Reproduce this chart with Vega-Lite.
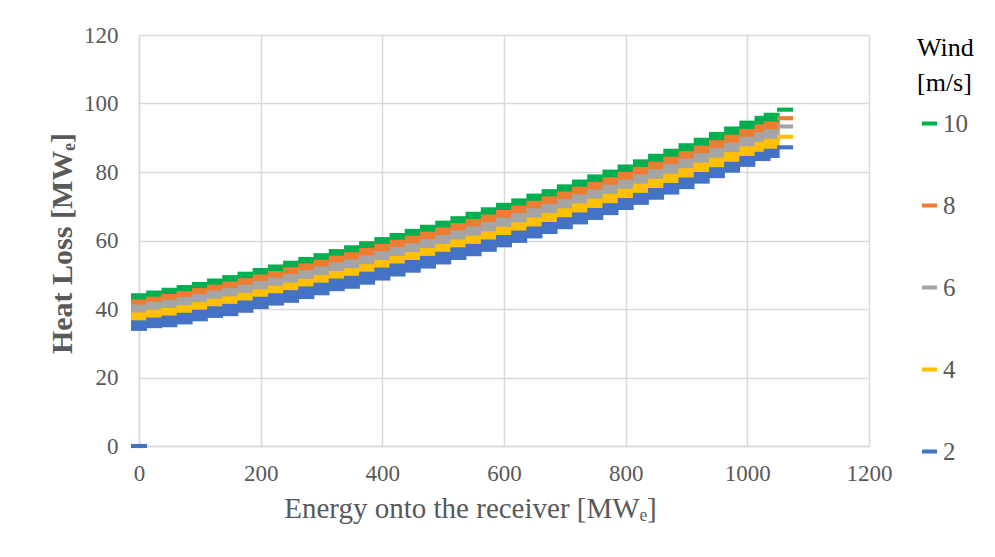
{
  "$schema": "https://vega.github.io/schema/vega-lite/v6.json",
  "width": 730,
  "height": 411,
  "autosize": {"type": "none"},
  "padding": {"left": 139, "top": 35, "right": 126, "bottom": 111},
  "background": "white",
  "config": {"font": "Liberation Serif", "view": {"stroke": null}},
  "data": {"values": [
    {"e":0,"w":"10","lo":41.2,"hi":44.6},{"e":25,"w":"10","lo":42.0,"hi":45.4},{"e":50,"w":"10","lo":42.8,"hi":46.2},{"e":75,"w":"10","lo":43.6,"hi":47.0},{"e":100,"w":"10","lo":44.5,"hi":47.9},{"e":125,"w":"10","lo":45.5,"hi":48.9},{"e":150,"w":"10","lo":46.5,"hi":49.9},{"e":175,"w":"10","lo":47.5,"hi":50.9},{"e":200,"w":"10","lo":48.6,"hi":52.0},{"e":225,"w":"10","lo":49.6,"hi":53.0},{"e":250,"w":"10","lo":50.7,"hi":54.1},{"e":275,"w":"10","lo":51.8,"hi":55.2},{"e":300,"w":"10","lo":52.9,"hi":56.3},{"e":325,"w":"10","lo":54.1,"hi":57.5},{"e":350,"w":"10","lo":55.2,"hi":58.6},{"e":375,"w":"10","lo":56.4,"hi":59.8},{"e":400,"w":"10","lo":57.6,"hi":61.0},{"e":425,"w":"10","lo":58.8,"hi":62.2},{"e":450,"w":"10","lo":60.0,"hi":63.4},{"e":475,"w":"10","lo":61.2,"hi":64.6},{"e":500,"w":"10","lo":62.4,"hi":65.8},{"e":525,"w":"10","lo":63.7,"hi":67.1},{"e":550,"w":"10","lo":65.0,"hi":68.4},{"e":575,"w":"10","lo":66.3,"hi":69.7},{"e":600,"w":"10","lo":67.6,"hi":71.0},{"e":625,"w":"10","lo":68.9,"hi":72.3},{"e":650,"w":"10","lo":70.3,"hi":73.7},{"e":675,"w":"10","lo":71.6,"hi":75.0},{"e":700,"w":"10","lo":73.0,"hi":76.4},{"e":725,"w":"10","lo":74.4,"hi":77.8},{"e":750,"w":"10","lo":75.9,"hi":79.3},{"e":775,"w":"10","lo":77.3,"hi":80.7},{"e":800,"w":"10","lo":78.8,"hi":82.2},{"e":825,"w":"10","lo":80.3,"hi":83.7},{"e":850,"w":"10","lo":81.9,"hi":85.3},{"e":875,"w":"10","lo":83.4,"hi":86.8},{"e":900,"w":"10","lo":85.0,"hi":88.4},{"e":925,"w":"10","lo":86.6,"hi":90.0},{"e":950,"w":"10","lo":88.3,"hi":91.7},{"e":975,"w":"10","lo":89.9,"hi":93.3},{"e":1000,"w":"10","lo":91.6,"hi":95.0},{"e":1025,"w":"10","lo":93.0,"hi":96.4},{"e":1040,"w":"10","lo":93.9,"hi":97.3},{"e":1062,"w":"10","lo":97.6,"hi":98.8},
    {"e":0,"w":"8","lo":39.4,"hi":42.8},{"e":25,"w":"8","lo":40.2,"hi":43.6},{"e":50,"w":"8","lo":41.0,"hi":44.4},{"e":75,"w":"8","lo":41.8,"hi":45.2},{"e":100,"w":"8","lo":42.7,"hi":46.1},{"e":125,"w":"8","lo":43.7,"hi":47.1},{"e":150,"w":"8","lo":44.6,"hi":48.0},{"e":175,"w":"8","lo":45.6,"hi":49.0},{"e":200,"w":"8","lo":46.7,"hi":50.1},{"e":225,"w":"8","lo":47.7,"hi":51.1},{"e":250,"w":"8","lo":48.8,"hi":52.2},{"e":275,"w":"8","lo":49.9,"hi":53.3},{"e":300,"w":"8","lo":51.0,"hi":54.4},{"e":325,"w":"8","lo":52.2,"hi":55.6},{"e":350,"w":"8","lo":53.2,"hi":56.6},{"e":375,"w":"8","lo":54.4,"hi":57.8},{"e":400,"w":"8","lo":55.6,"hi":59.0},{"e":425,"w":"8","lo":56.8,"hi":60.2},{"e":450,"w":"8","lo":58.0,"hi":61.4},{"e":475,"w":"8","lo":59.2,"hi":62.6},{"e":500,"w":"8","lo":60.4,"hi":63.8},{"e":525,"w":"8","lo":61.7,"hi":65.1},{"e":550,"w":"8","lo":62.9,"hi":66.3},{"e":575,"w":"8","lo":64.2,"hi":67.6},{"e":600,"w":"8","lo":65.5,"hi":68.9},{"e":625,"w":"8","lo":66.8,"hi":70.2},{"e":650,"w":"8","lo":68.2,"hi":71.6},{"e":675,"w":"8","lo":69.5,"hi":72.9},{"e":700,"w":"8","lo":70.9,"hi":74.3},{"e":725,"w":"8","lo":72.3,"hi":75.7},{"e":750,"w":"8","lo":73.7,"hi":77.1},{"e":775,"w":"8","lo":75.1,"hi":78.5},{"e":800,"w":"8","lo":76.6,"hi":80.0},{"e":825,"w":"8","lo":78.1,"hi":81.5},{"e":850,"w":"8","lo":79.6,"hi":83.0},{"e":875,"w":"8","lo":81.1,"hi":84.5},{"e":900,"w":"8","lo":82.7,"hi":86.1},{"e":925,"w":"8","lo":84.3,"hi":87.7},{"e":950,"w":"8","lo":85.9,"hi":89.3},{"e":975,"w":"8","lo":87.5,"hi":90.9},{"e":1000,"w":"8","lo":89.2,"hi":92.6},{"e":1025,"w":"8","lo":90.5,"hi":93.9},{"e":1040,"w":"8","lo":91.4,"hi":94.8},{"e":1062,"w":"8","lo":95.1,"hi":96.3},
    {"e":0,"w":"6","lo":37.9,"hi":41.3},{"e":25,"w":"6","lo":38.7,"hi":42.1},{"e":50,"w":"6","lo":39.3,"hi":42.7},{"e":75,"w":"6","lo":40.1,"hi":43.5},{"e":100,"w":"6","lo":41.0,"hi":44.4},{"e":125,"w":"6","lo":42.0,"hi":45.4},{"e":150,"w":"6","lo":42.7,"hi":46.1},{"e":175,"w":"6","lo":43.7,"hi":47.1},{"e":200,"w":"6","lo":44.8,"hi":48.2},{"e":225,"w":"6","lo":45.8,"hi":49.2},{"e":250,"w":"6","lo":46.8,"hi":50.2},{"e":275,"w":"6","lo":47.9,"hi":51.3},{"e":300,"w":"6","lo":49.0,"hi":52.4},{"e":325,"w":"6","lo":50.2,"hi":53.6},{"e":350,"w":"6","lo":51.1,"hi":54.5},{"e":375,"w":"6","lo":52.3,"hi":55.7},{"e":400,"w":"6","lo":53.5,"hi":56.9},{"e":425,"w":"6","lo":54.7,"hi":58.1},{"e":450,"w":"6","lo":55.8,"hi":59.2},{"e":475,"w":"6","lo":57.0,"hi":60.4},{"e":500,"w":"6","lo":58.2,"hi":61.6},{"e":525,"w":"6","lo":59.5,"hi":62.9},{"e":550,"w":"6","lo":60.7,"hi":64.1},{"e":575,"w":"6","lo":62.0,"hi":65.4},{"e":600,"w":"6","lo":63.3,"hi":66.7},{"e":625,"w":"6","lo":64.6,"hi":68.0},{"e":650,"w":"6","lo":66.0,"hi":69.4},{"e":675,"w":"6","lo":67.3,"hi":70.7},{"e":700,"w":"6","lo":68.7,"hi":72.1},{"e":725,"w":"6","lo":70.1,"hi":73.5},{"e":750,"w":"6","lo":71.5,"hi":74.9},{"e":775,"w":"6","lo":72.9,"hi":76.3},{"e":800,"w":"6","lo":74.4,"hi":77.8},{"e":825,"w":"6","lo":75.9,"hi":79.3},{"e":850,"w":"6","lo":77.4,"hi":80.8},{"e":875,"w":"6","lo":78.9,"hi":82.3},{"e":900,"w":"6","lo":80.5,"hi":83.9},{"e":925,"w":"6","lo":82.1,"hi":85.5},{"e":950,"w":"6","lo":83.6,"hi":87.0},{"e":975,"w":"6","lo":85.2,"hi":88.6},{"e":1000,"w":"6","lo":86.9,"hi":90.3},{"e":1025,"w":"6","lo":88.2,"hi":91.6},{"e":1040,"w":"6","lo":89.1,"hi":92.5},{"e":1062,"w":"6","lo":92.7,"hi":93.9},
    {"e":0,"w":"4","lo":35.6,"hi":39.0},{"e":25,"w":"4","lo":36.4,"hi":39.8},{"e":50,"w":"4","lo":36.9,"hi":40.3},{"e":75,"w":"4","lo":37.7,"hi":41.1},{"e":100,"w":"4","lo":38.6,"hi":42.0},{"e":125,"w":"4","lo":39.6,"hi":43.0},{"e":150,"w":"4","lo":40.3,"hi":43.7},{"e":175,"w":"4","lo":41.3,"hi":44.7},{"e":200,"w":"4","lo":42.4,"hi":45.8},{"e":225,"w":"4","lo":43.4,"hi":46.8},{"e":250,"w":"4","lo":44.3,"hi":47.7},{"e":275,"w":"4","lo":45.4,"hi":48.8},{"e":300,"w":"4","lo":46.5,"hi":49.9},{"e":325,"w":"4","lo":47.7,"hi":51.1},{"e":350,"w":"4","lo":48.5,"hi":51.9},{"e":375,"w":"4","lo":49.7,"hi":53.1},{"e":400,"w":"4","lo":50.9,"hi":54.3},{"e":425,"w":"4","lo":52.1,"hi":55.5},{"e":450,"w":"4","lo":53.2,"hi":56.6},{"e":475,"w":"4","lo":54.4,"hi":57.8},{"e":500,"w":"4","lo":55.6,"hi":59.0},{"e":525,"w":"4","lo":56.9,"hi":60.3},{"e":550,"w":"4","lo":58.0,"hi":61.4},{"e":575,"w":"4","lo":59.3,"hi":62.7},{"e":600,"w":"4","lo":60.6,"hi":64.0},{"e":625,"w":"4","lo":61.9,"hi":65.3},{"e":650,"w":"4","lo":63.3,"hi":66.7},{"e":675,"w":"4","lo":64.6,"hi":68.0},{"e":700,"w":"4","lo":66.0,"hi":69.4},{"e":725,"w":"4","lo":67.4,"hi":70.8},{"e":750,"w":"4","lo":68.8,"hi":72.2},{"e":775,"w":"4","lo":70.2,"hi":73.6},{"e":800,"w":"4","lo":71.7,"hi":75.1},{"e":825,"w":"4","lo":73.2,"hi":76.6},{"e":850,"w":"4","lo":74.6,"hi":78.0},{"e":875,"w":"4","lo":76.1,"hi":79.5},{"e":900,"w":"4","lo":77.7,"hi":81.1},{"e":925,"w":"4","lo":79.3,"hi":82.7},{"e":950,"w":"4","lo":80.8,"hi":84.2},{"e":975,"w":"4","lo":82.4,"hi":85.8},{"e":1000,"w":"4","lo":84.1,"hi":87.5},{"e":1025,"w":"4","lo":85.4,"hi":88.8},{"e":1040,"w":"4","lo":86.3,"hi":89.7},{"e":1062,"w":"4","lo":89.7,"hi":90.9},
    {"e":0,"w":"2","lo":33.6,"hi":36.7},{"e":25,"w":"2","lo":34.4,"hi":37.5},{"e":50,"w":"2","lo":34.7,"hi":38.1},{"e":75,"w":"2","lo":35.5,"hi":38.9},{"e":100,"w":"2","lo":36.4,"hi":39.8},{"e":125,"w":"2","lo":37.4,"hi":40.8},{"e":150,"w":"2","lo":37.9,"hi":41.5},{"e":175,"w":"2","lo":38.9,"hi":42.5},{"e":200,"w":"2","lo":40.0,"hi":43.6},{"e":225,"w":"2","lo":41.0,"hi":44.6},{"e":250,"w":"2","lo":41.8,"hi":45.5},{"e":275,"w":"2","lo":42.9,"hi":46.6},{"e":300,"w":"2","lo":44.0,"hi":47.7},{"e":325,"w":"2","lo":45.2,"hi":48.9},{"e":350,"w":"2","lo":45.9,"hi":49.7},{"e":375,"w":"2","lo":47.1,"hi":50.9},{"e":400,"w":"2","lo":48.3,"hi":52.1},{"e":425,"w":"2","lo":49.5,"hi":53.3},{"e":450,"w":"2","lo":50.6,"hi":54.3},{"e":475,"w":"2","lo":51.8,"hi":55.5},{"e":500,"w":"2","lo":53.0,"hi":56.7},{"e":525,"w":"2","lo":54.3,"hi":58.0},{"e":550,"w":"2","lo":55.4,"hi":59.0},{"e":575,"w":"2","lo":56.7,"hi":60.3},{"e":600,"w":"2","lo":58.0,"hi":61.6},{"e":625,"w":"2","lo":59.3,"hi":62.9},{"e":650,"w":"2","lo":60.6,"hi":64.1},{"e":675,"w":"2","lo":61.9,"hi":65.4},{"e":700,"w":"2","lo":63.3,"hi":66.8},{"e":725,"w":"2","lo":64.7,"hi":68.2},{"e":750,"w":"2","lo":66.0,"hi":69.5},{"e":775,"w":"2","lo":67.4,"hi":70.9},{"e":800,"w":"2","lo":68.9,"hi":72.4},{"e":825,"w":"2","lo":70.4,"hi":73.9},{"e":850,"w":"2","lo":71.9,"hi":75.3},{"e":875,"w":"2","lo":73.4,"hi":76.8},{"e":900,"w":"2","lo":75.0,"hi":78.4},{"e":925,"w":"2","lo":76.6,"hi":80.0},{"e":950,"w":"2","lo":78.2,"hi":81.4},{"e":975,"w":"2","lo":79.8,"hi":83.0},{"e":1000,"w":"2","lo":81.5,"hi":84.7},{"e":1025,"w":"2","lo":83.2,"hi":85.9},{"e":1040,"w":"2","lo":84.1,"hi":86.8},{"e":1062,"w":"2","lo":86.6,"hi":87.8},{"e":0,"w":"2","lo":-0.6,"hi":0.6}
  ]},
  "mark": {"type": "bar", "size": 16, "strokeWidth": 0, "opacity": 1},
  "encoding": {
    "x": {
      "field": "e", "type": "quantitative",
      "scale": {"domain": [0, 1200], "nice": false, "zero": false, "padding": 0},
      "axis": {
        "values": [0, 200, 400, 600, 800, 1000, 1200], "format": "d",
        "grid": true, "gridColor": "#d9d9d9", "gridWidth": 1.5,
        "domainColor": "#d9d9d9", "domainWidth": 1.5,
        "ticks": false, "labelFlush": false, "labelOverlap": false,
        "labelFont": "Liberation Serif", "labelFontSize": 23, "labelColor": "#595959", "labelPadding": 16,
        "title": "Energy onto the receiver [MWₑ]",
        "titleFont": "Liberation Serif", "titleFontSize": 29, "titleFontWeight": "normal", "titleColor": "#595959",
        "titleX": 331, "titleY": 71, "titleAlign": "center", "titleBaseline": "alphabetic"
      }
    },
    "y": {
      "field": "lo", "type": "quantitative",
      "scale": {"domain": [0, 120], "nice": false},
      "axis": {
        "values": [0, 20, 40, 60, 80, 100, 120],
        "grid": true, "gridColor": "#d9d9d9", "gridWidth": 1.5,
        "domainColor": "#d9d9d9", "domainWidth": 1.5,
        "ticks": false, "labelOverlap": false,
        "labelFont": "Liberation Serif", "labelFontSize": 23, "labelColor": "#595959", "labelPadding": 21,
        "title": "Heat Loss [MWₑ]",
        "titleFont": "Liberation Serif", "titleFontSize": 30, "titleFontWeight": "bold", "titleColor": "#595959",
        "titleX": -77, "titleY": 208, "titleAngle": -90, "titleAlign": "center", "titleBaseline": "middle"
      }
    },
    "y2": {"field": "hi"},
    "color": {
      "field": "w", "type": "nominal",
      "scale": {"domain": ["10", "8", "6", "4", "2"], "range": ["#00B050", "#ED7D31", "#A5A5A5", "#FFC000", "#4472C4"]},
      "legend": {
        "orient": "none", "legendX": 778, "legendY": 0, "padding": 0,
        "title": ["Wind", "[m/s]"],
        "titleFont": "Liberation Serif", "titleFontSize": 26, "titleFontWeight": "normal", "titleColor": "#000000",
        "titleLineHeight": 35, "titlePadding": 15,
        "labelFont": "Liberation Serif", "labelFontSize": 25, "labelColor": "#595959",
        "symbolType": "M-1,-0.27H1V0.27H-1Z", "symbolSize": 225, "symbolStrokeWidth": 0, "symbolOffset": 0,
        "labelOffset": 1, "rowPadding": 56
      }
    }
  }
}
